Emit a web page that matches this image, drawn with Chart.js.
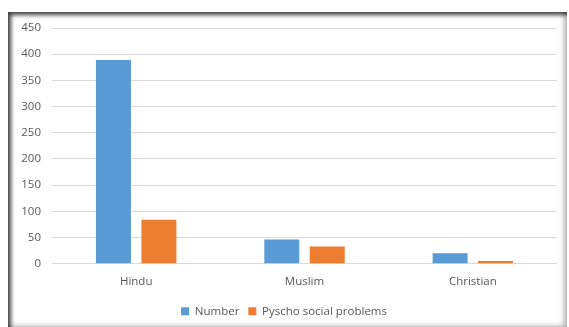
<!DOCTYPE html>
<html>
<head>
<meta charset="utf-8">
<script src="https://cdn.jsdelivr.net/npm/chart.js@4/dist/chart.umd.min.js"></script>
<style>
  body { margin: 0; background: #fff; }
  #wrap { position: relative; width: 569px; height: 327px; overflow: hidden; }
  /* framed panel with the dark drop edge */
  #frame {
    position: absolute; left: 8px; top: 12px; width: 559px; height: 315px;
    background: #fff;
    box-shadow: inset 4px 4px 4px -1px rgba(0,0,0,0.75), inset -5px -3px 5px -2px rgba(0,0,0,0.3);
  }
  canvas { position: absolute; left: 0; top: 0; }
</style>
</head>
<body>
<div id="wrap">
  <div id="frame"></div>
  <canvas id="chart" width="569" height="327"></canvas>
</div>
<script>
// data
const categories = ['Hindu', 'Muslim', 'Christian'];
const numberValues = [389, 46, 20];
const psychoValues = [84, 33, 5];
const seriesLabels = ['Number', 'Pyscho social problems'];

const textColor = '#595959';
const font = { family: 'Open Sans, Noto Sans, sans-serif', size: 11.5 };

new Chart(document.getElementById('chart'), {
  type: 'bar',
  data: {
    labels: categories,
    datasets: [
      { label: seriesLabels[0], data: numberValues, backgroundColor: '#5B9BD5' },
      { label: seriesLabels[1], data: psychoValues, backgroundColor: '#ED7D31' }
    ]
  },
  options: {
    responsive: false,
    animation: false,
    devicePixelRatio: 1,
    layout: { padding: { left: 11, right: 12, top: 28, bottom: 0 } },
    datasets: { bar: { categoryPercentage: 0.54, barPercentage: 0.77 } },
    scales: {
      x: {
        grid: { display: false },
        border: { display: false },
        ticks: { color: textColor, font: font, padding: 3 },
        afterFit: function (scale) { scale.height += 5; }
      },
      y: {
        min: 0, max: 450,
        ticks: { stepSize: 50, color: textColor, font: font, padding: 11 },
        grid: { color: '#D9D9D9', drawTicks: false },
        border: { display: false },
        afterFit: function (scale) { scale.width = 41; }
      }
    },
    plugins: {
      tooltip: { enabled: false },
      legend: {
        position: 'bottom',
        labels: { color: textColor, font: font, boxWidth: 8, boxHeight: 8, padding: 9 }
      }
    }
  }
});
</script>
</body>
</html>
